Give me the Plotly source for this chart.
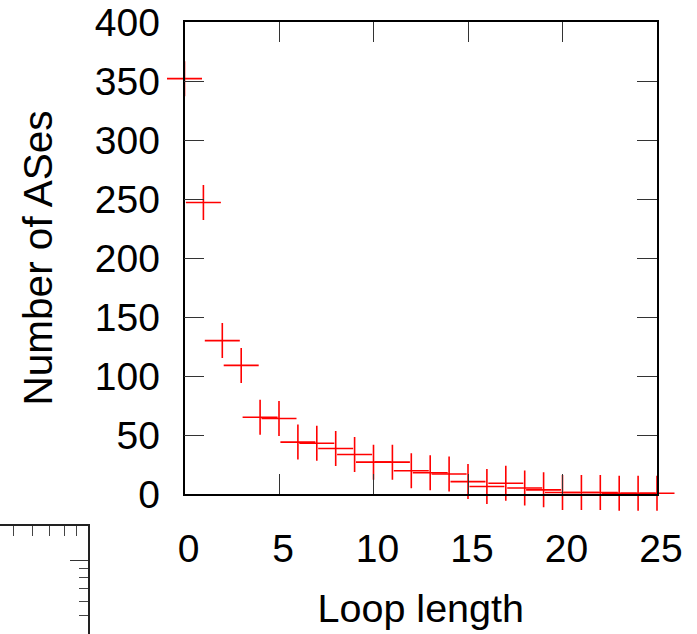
import plotly.graph_objects as go

# ---- data ----
loop_length = list(range(0, 26))
num_ases = [352, 247, 130, 109, 65, 64, 44, 43, 38.5, 33.5, 27, 27, 19.7, 18, 17,
            10.5, 6.4, 9.1, 5.1, 3.5, 1.3, 1.3, 1.3, 0.6, 0.6, 0.6]

x_ticks = [0, 5, 10, 15, 20, 25]
y_ticks = [0, 50, 100, 150, 200, 250, 300, 350, 400]

# inset (partially visible log-log frame in lower-left corner)
inset_x_major = [1]
inset_x_minor = [0.5, 0.6, 0.7, 0.8, 0.9]
inset_y_major = [1]
inset_y_minor = [0.4, 0.5, 0.6, 0.7, 0.8, 0.9]

W, H = 697, 634
FONT = "Liberation Sans, Arial, sans-serif"

fig = go.Figure()
fig.add_trace(go.Scatter(
    x=loop_length, y=num_ases, mode="markers",
    marker=dict(symbol="cross-thin", size=25, color="red",
                line=dict(color="red", width=1.6)),
    cliponaxis=False, showlegend=False, xaxis="x", yaxis="y"))
fig.add_trace(go.Scatter(x=[], y=[], xaxis="x2", yaxis="y2", showlegend=False))

L, R, T, B = 184.5, 657, 22, 494
axis_common = dict(showline=True, linecolor="black", linewidth=1.5,
                   ticks="inside", ticklen=20, tickwidth=1.3, tickcolor="#333",
                   mirror="ticks", showgrid=False, zeroline=False,
                   tickfont=dict(family=FONT, size=39, color="black"))

fig.update_layout(
    width=W, height=H, margin=dict(l=0, r=0, t=0, b=0),
    template="none", paper_bgcolor="white", plot_bgcolor="white",
    font=dict(family=FONT, size=39, color="black"),
    xaxis=dict(domain=[L / W, R / W], range=[0, 25], tickvals=x_ticks,
               ticklabelstandoff=19, ticklabelshift=4,
               title=dict(text="Loop length", standoff=26,
                          font=dict(family=FONT, size=39.5, color="black")),
               anchor="y", **axis_common),
    yaxis=dict(domain=[(H - B) / H, (H - T) / H], range=[0, 400], tickvals=y_ticks,
               ticklabelstandoff=15,
               title=dict(text="Number of ASes", standoff=30,
                          font=dict(family=FONT, size=40.5, color="black")),
               anchor="x", **axis_common),
    xaxis2=dict(domain=[0, 88.3 / W], anchor="y2", side="top", type="log",
                range=[-0.353, 0], showline=True, linecolor="#222", linewidth=1.8,
                ticks="inside", tickvals=inset_x_major, ticklen=18, tickwidth=1.3,
                tickcolor="#333", showticklabels=False, showgrid=False, zeroline=False,
                minor=dict(tickmode="array", tickvals=inset_x_minor, ticks="inside",
                           ticklen=10, tickwidth=1.3, tickcolor="#444", showgrid=False)),
    yaxis2=dict(domain=[0, (H - 526) / H], anchor="x2", side="right", type="log",
                range=[-0.4, 0.184], showline=True, linecolor="#222", linewidth=1.8,
                ticks="inside", tickvals=inset_y_major, ticklen=18, tickwidth=1.3,
                tickcolor="#333", showticklabels=False, showgrid=False, zeroline=False,
                minor=dict(tickmode="array", tickvals=inset_y_minor, ticks="inside",
                           ticklen=9, tickwidth=1.3, tickcolor="#444", showgrid=False)),
)

fig.write_html("out.html", config=dict(displayModeBar=False))
